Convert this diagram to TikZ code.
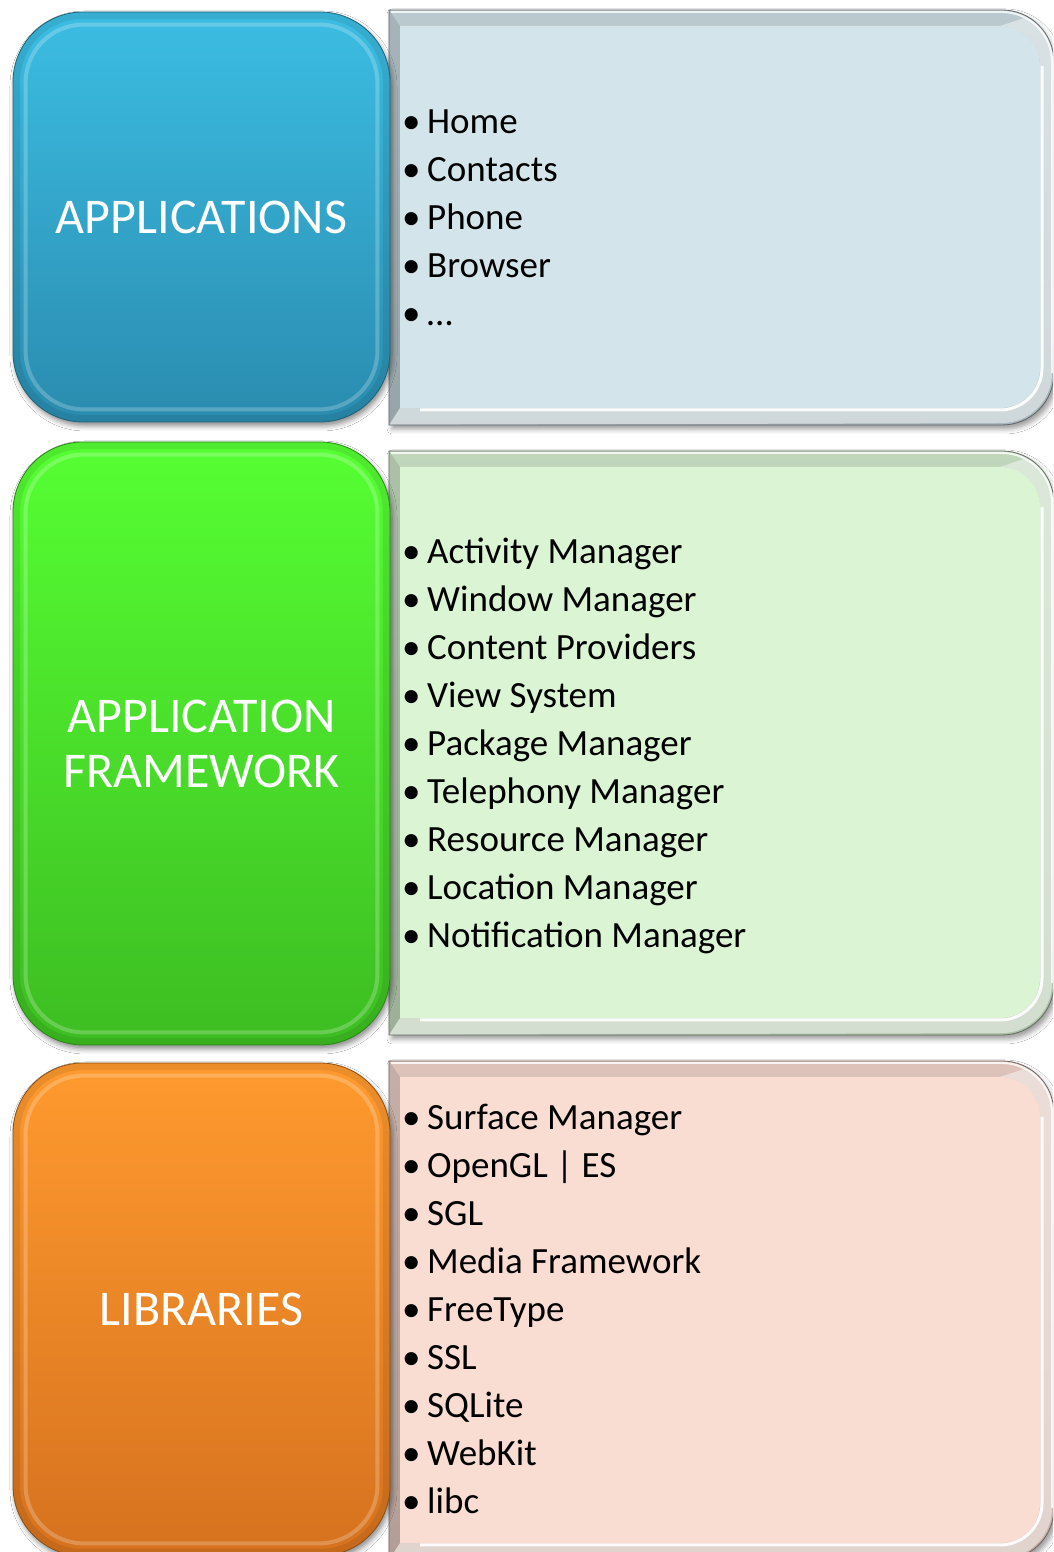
\documentclass[tikz,border=0pt]{standalone}
\usepackage{fontspec}
\setmainfont{Carlito}
\usetikzlibrary{shadows.blur}

% layer colours
\definecolor{appTop}{RGB}{60,189,227}
\definecolor{appBot}{RGB}{42,140,175}
\definecolor{appFace}{RGB}{211,229,235}
\definecolor{fwTop}{RGB}{86,255,51}
\definecolor{fwBot}{RGB}{61,189,34}
\definecolor{fwFace}{RGB}{218,244,212}
\definecolor{libTop}{RGB}{255,154,47}
\definecolor{libBot}{RGB}{214,114,30}
\definecolor{libFace}{RGB}{250,221,210}

\tikzset{
  x=1pt, y=1pt,
  layerbox/.style={draw=#1!55!black, line width=0.8pt, rounded corners=70pt,
    minimum width=377pt, inner sep=0pt, text=white, align=center,
    font=\fontsize{50}{55}\selectfont,
    blur shadow={shadow xshift=2pt, shadow yshift=-4pt, shadow blur radius=5pt, shadow opacity=45}},
  item/.style={anchor=base west, inner sep=0pt, font=\fontsize{37}{44}\selectfont, text=black},
  softshadow/.style={blur shadow={shadow xshift=3pt, shadow yshift=-4pt, shadow blur radius=5pt, shadow opacity=40}},
}

\newcommand\blt{\makebox[25pt][l]{•}}

% bevelled panel with square left corners and rounded right corners
% #1 left x, #2 bottom y, #3 right x, #4 top y, #5 face colour
\newcommand\panel[5]{%
  \pgfmathsetmacro\pax{#3-52}\pgfmathsetmacro\pby{#2+52}\pgfmathsetmacro\pty{#4-52}%
  \pgfmathsetmacro\ia{#1+11}\pgfmathsetmacro\ib{#2+17}\pgfmathsetmacro\ic{#3-14}\pgfmathsetmacro\id{#4-16}%
  \pgfmathsetmacro\iax{\ic-40}\pgfmathsetmacro\iby{\ib+40}\pgfmathsetmacro\ity{\id-40}%
  % outer body with shadow
  \path[softshadow, top color=#5!88!black, bottom color=#5!80!black]
    (#1,#2) -- (#1,#4) -- (\pax,#4) arc[start angle=90,end angle=0,radius=52]
    -- (#3,\pby) arc[start angle=0,end angle=-90,radius=52] -- cycle;
  % darker left band
  \fill[black, opacity=0.10] (#1,#2) -- (#1,#4) -- (\ia,\id) -- (\ia,\ib) -- cycle;
  % light lower band
  \fill[white, opacity=0.45] (#1,#2) -- (\ia,\ib) -- (\iax,\ib)
    arc[start angle=-90,end angle=0,radius=40] -- (\ic,\ity)
    arc[start angle=0,end angle=90,radius=40] -- (#3-30,#4-8)
    arc[start angle=80,end angle=0,radius=44] -- (#3-2,\pby)
    arc[start angle=0,end angle=-90,radius=50] -- cycle;
  % face
  \fill[#5] (\ia,\ib) -- (\ia,\id) -- (\iax,\id) arc[start angle=90,end angle=0,radius=40]
    -- (\ic,\iby) arc[start angle=0,end angle=-90,radius=40] -- cycle;
  % highlights
  \draw[white, line width=3pt, opacity=0.9] (\ia+20,\ib-2) -- (\iax,\ib-2)
    arc[start angle=-90,end angle=0,radius=42] -- (\ic+2,\ity);
  \draw[white, line width=2pt, opacity=0.8] (#1+2,#4-2) -- (\pax,#4-2)
    arc[start angle=90,end angle=0,radius=50] -- (#3-2,\pby);
  % outline
  \draw[#5!45!black, line width=0.8pt]
    (#1,#2) -- (#1,#4) -- (\pax,#4) arc[start angle=90,end angle=0,radius=52]
    -- (#3,\pby) arc[start angle=0,end angle=-90,radius=52] -- cycle;
}

\begin{document}
\begin{tikzpicture}
\useasboundingbox (0,0) rectangle (1053,1552);
\fill[white] (0,0) rectangle (1053,1552);
\clip (0,0) rectangle (1053,1552);

% right-hand panels
\panel{389}{1127}{1054}{1542}{appFace}
\panel{389}{517}{1054}{1101}{fwFace}
\panel{389}{-8}{1054}{491}{libFace}

% left-hand layer names
\node[layerbox=appTop, top color=appTop, bottom color=appBot, minimum height=410pt]
  (apps) at (201.5,1335) {APPLICATIONS};
\node[layerbox=fwTop, top color=fwTop, bottom color=fwBot, minimum height=603pt]
  (fw) at (201.5,808.5) {APPLICATION\\FRAMEWORK};
\node[layerbox=libTop, top color=libTop, bottom color=libBot, minimum height=493pt]
  (libs) at (201.5,242.5) {LIBRARIES};

% soft inner rim of the layer names
\foreach \n in {apps,fw,libs}{
  \draw[black, opacity=0.08, line width=7pt, rounded corners=66pt]
    ([shift={(4,-4)}]\n.north west) rectangle ([shift={(-4,4)}]\n.south east);
  \draw[white, opacity=0.22, line width=4pt, rounded corners=58pt]
    ([shift={(13,-13)}]\n.north west) rectangle ([shift={(-13,13)}]\n.south east);
}

% item lists
\foreach \t [count=\k] in {Home,Contacts,Phone,Browser,…}
  \node[item] (a\k) at (402,{1418-48*(\k-1)}) {\blt\t};
\foreach \t [count=\k] in {Activity Manager,Window Manager,Content Providers,View System,
    Package Manager,Telephony Manager,Resource Manager,Location Manager,Notification Manager}
  \node[item] (f\k) at (402,{988-48*(\k-1)}) {\blt\t};
\foreach \t [count=\k] in {Surface Manager,OpenGL | ES,SGL,Media Framework,FreeType,
    SSL,SQLite,WebKit,libc}
  \node[item] (l\k) at (402,{422-48*(\k-1)}) {\blt\t};
\end{tikzpicture}
\end{document}
